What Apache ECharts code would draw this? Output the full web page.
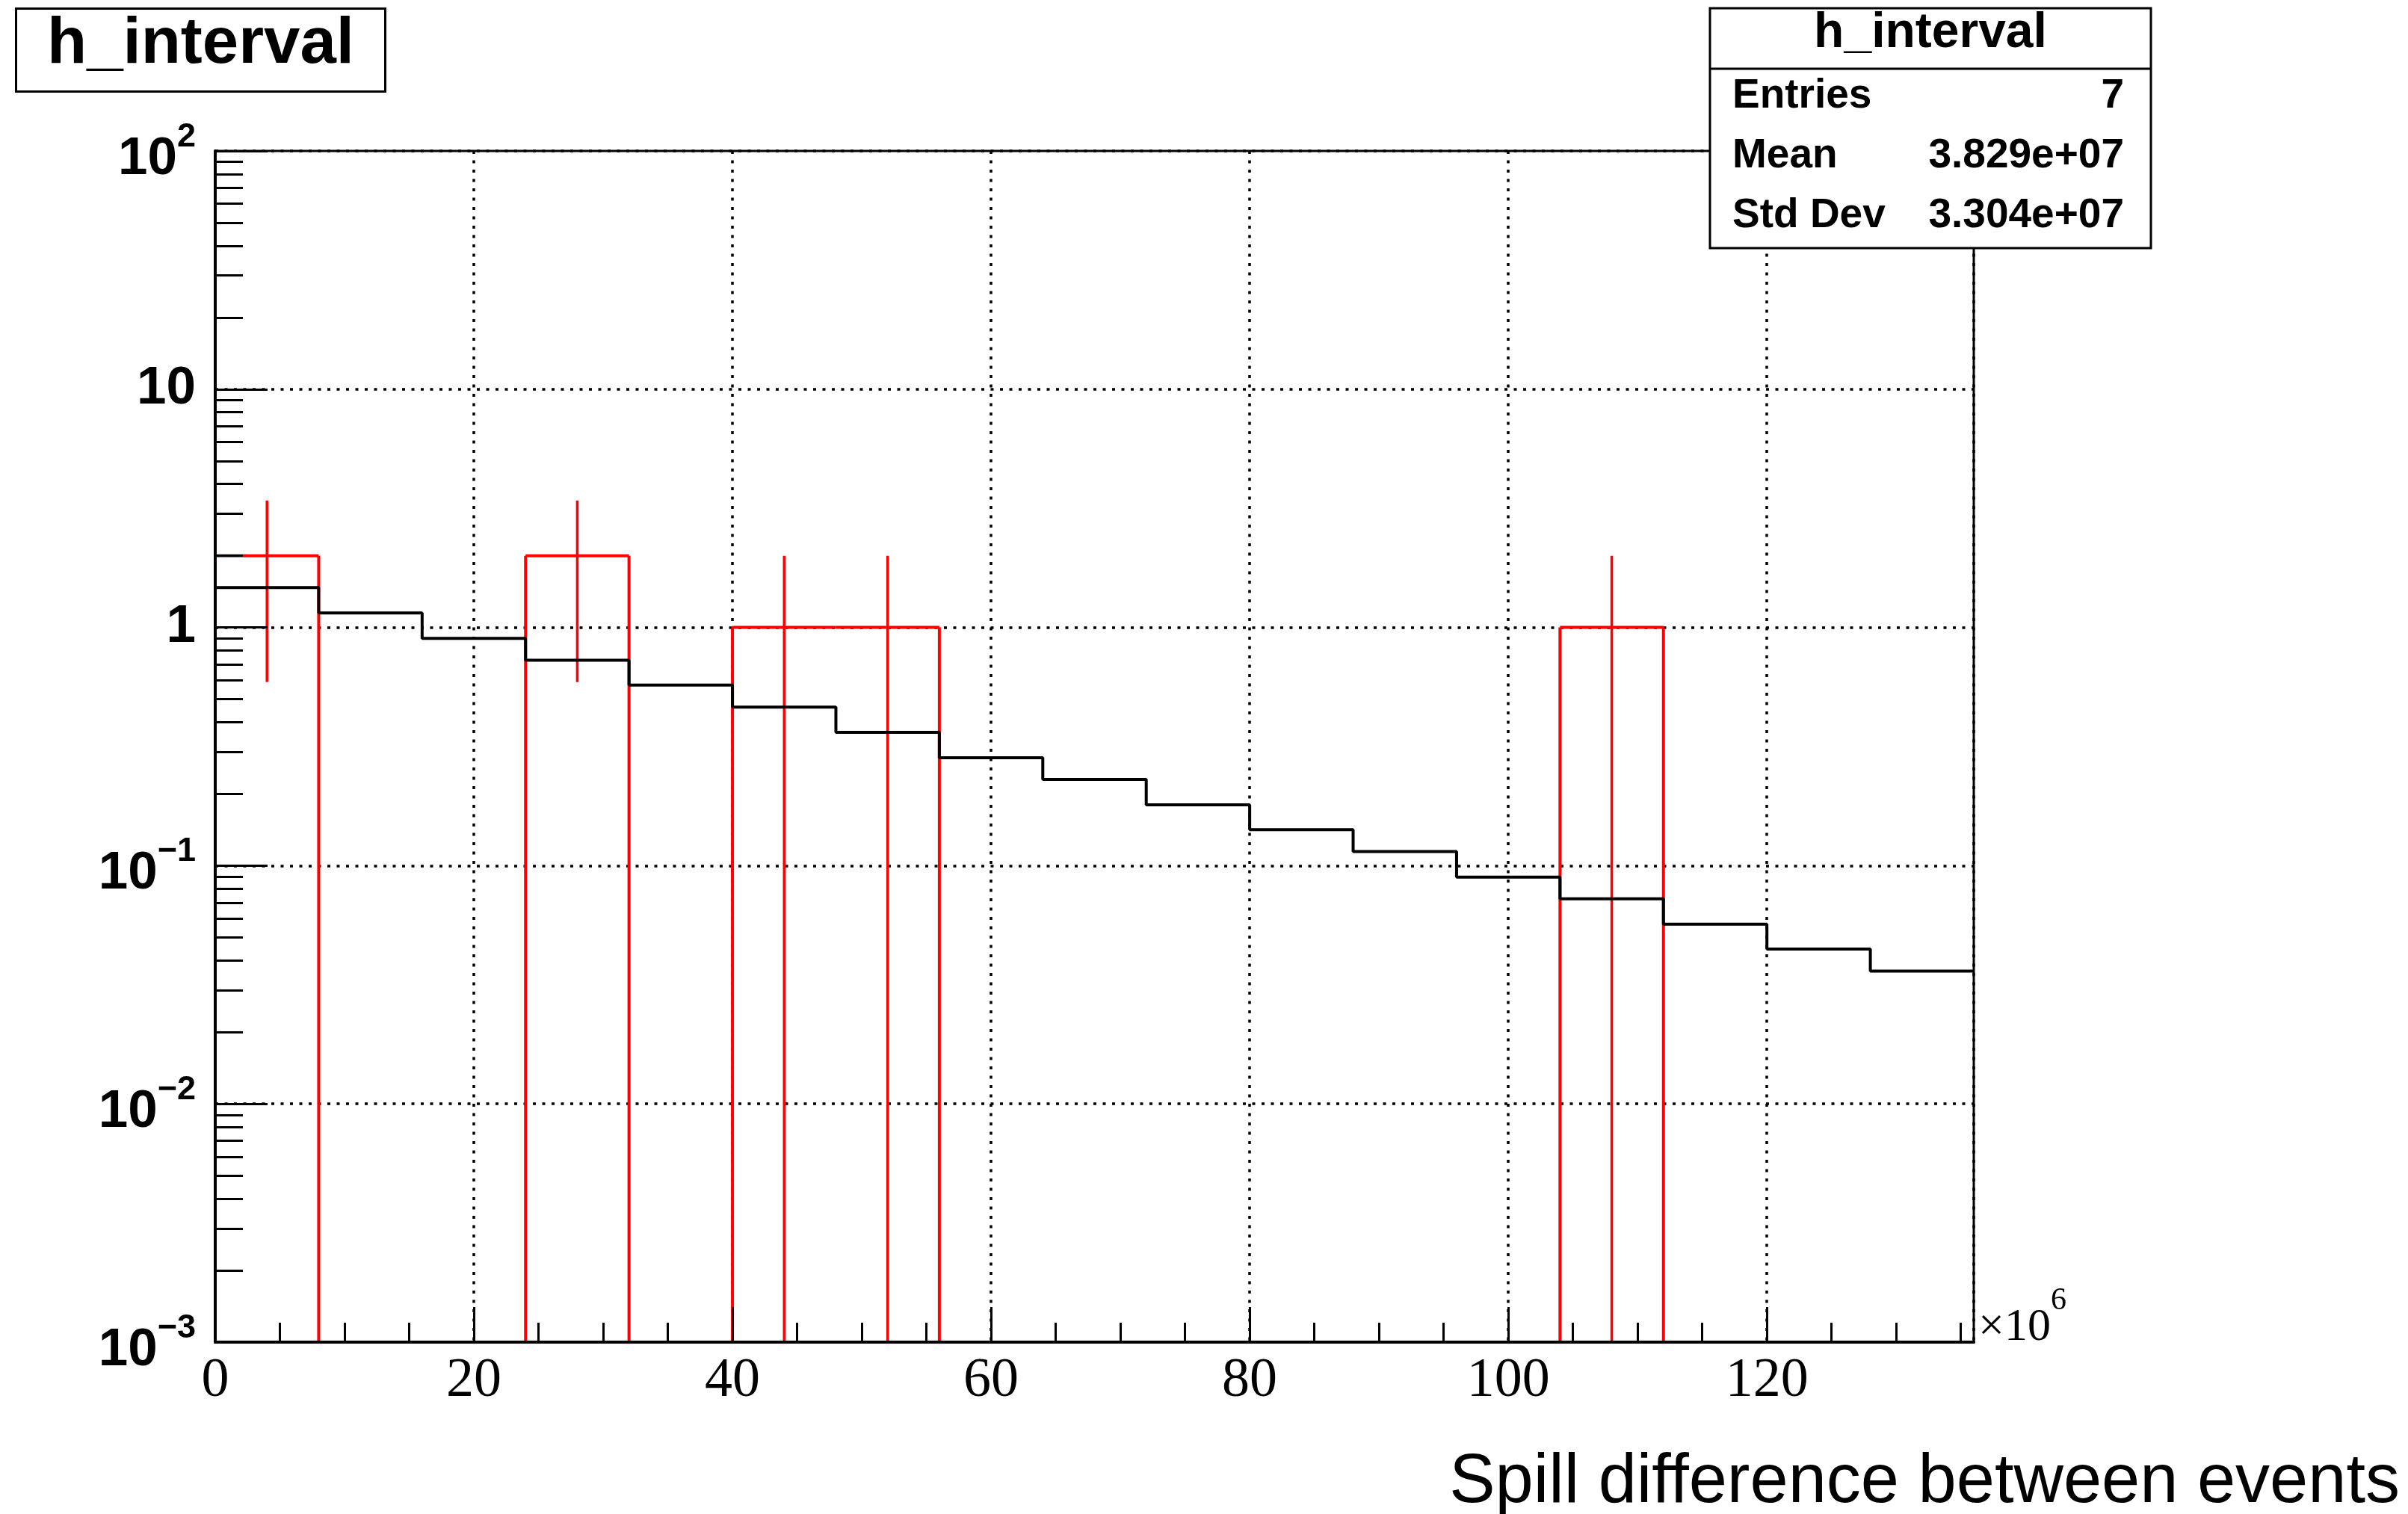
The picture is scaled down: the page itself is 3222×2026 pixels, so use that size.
<!DOCTYPE html>
<html>
<head>
<meta charset="utf-8">
<script src="https://cdn.jsdelivr.net/npm/echarts@6/dist/echarts.min.js"></script>
<style>
html,body{margin:0;padding:0;background:#fff;}
#chart{width:3222px;height:2026px;}
</style>
</head>
<body>
<div id="chart"></div>
<script>
// ---------------- data ----------------
const binLow = [0, 8, 16, 24, 32, 40, 48, 56, 64, 72, 80, 88, 96, 104, 112, 120, 128];
const binWidth = 8;
const xMax = 136;
// red histogram (h_interval): counts per bin and their error bars
const dataCounts = [2, 0, 0, 2, 0, 1, 1, 0, 0, 0, 0, 0, 0, 1, 0, 0, 0];
const dataErrors = [1.41, 0, 0, 1.41, 0, 1.0, 1.0, 0, 0, 0, 0, 0, 0, 1.0, 0, 0, 0];
// black histogram (expected shape)
const modelValues = [1.47, 1.15, 0.90, 0.728, 0.573, 0.463, 0.363, 0.284, 0.230, 0.180, 0.1416, 0.1146, 0.0895, 0.0726, 0.0568, 0.0447, 0.0361];

// ticks and tick labels
const xMajorTicks = [0, 20, 40, 60, 80, 100, 120];
const xMinorTicks = [5, 10, 15, 25, 30, 35, 45, 50, 55, 65, 70, 75, 85, 90, 95, 105, 110, 115, 125, 130, 135];
const yMajorTicks = [0.001, 0.01, 0.1, 1, 10, 100];
const yTickLabels = [['10', '\u22123'], ['10', '\u22122'], ['10', '\u22121'], ['1', ''], ['10', ''], ['10', '2']];
const yMinorTicks = [0.002, 0.003, 0.004, 0.005, 0.006, 0.007, 0.008, 0.009,
                     0.02, 0.03, 0.04, 0.05, 0.06, 0.07, 0.08, 0.09,
                     0.2, 0.3, 0.4, 0.5, 0.6, 0.7, 0.8, 0.9,
                     2, 3, 4, 5, 6, 7, 8, 9,
                     20, 30, 40, 50, 60, 70, 80, 90];

const histTitle = 'h_interval';
const xTitle = 'Spill difference between events';
const xScaleMain = '\u00d710';
const xScaleExp = '6';
const statsRows = [['Entries', '7'], ['Mean', '3.829e+07'], ['Std Dev', '3.304e+07']];

// ---------------- build series data ----------------
const redHistData = binLow.map((lo, i) => [lo, lo + binWidth, dataCounts[i], i > 0 ? dataCounts[i - 1] : 0, i === binLow.length - 1 ? 1 : 0]);
const redErrData = binLow.map((lo, i) => [lo + binWidth / 2, dataCounts[i], dataErrors[i]]);
const modelLine = binLow.map((lo, i) => [lo, modelValues[i]]);
modelLine.push([binLow[binLow.length - 1] + binWidth, modelValues[modelValues.length - 1]]);

const SANS = 'Liberation Sans';
const SERIF = 'Liberation Serif';
const RED = '#ff0000';

function renderHist(params, api) {
  const lo = api.value(0), hi = api.value(1), v = api.value(2), pv = api.value(3), last = api.value(4);
  const cs = params.coordSys;
  const yb = cs.y + cs.height;
  const yOf = val => (val > 0 ? api.coord([lo, val])[1] : yb);
  const xl = api.coord([lo, 1])[0];
  const xh = api.coord([hi, 1])[0];
  const yv = yOf(v), yp = yOf(pv);
  const st = { stroke: RED, lineWidth: 4, fill: null };
  const children = [];
  if (Math.abs(yv - yp) > 0.5) children.push({ type: 'line', shape: { x1: xl, y1: yp, x2: xl, y2: yv }, style: st });
  if (v > 0) children.push({ type: 'line', shape: { x1: xl, y1: yv, x2: xh, y2: yv }, style: st });
  if (last && v > 0) children.push({ type: 'line', shape: { x1: xh, y1: yv, x2: xh, y2: yb }, style: st });
  return { type: 'group', children: children };
}

function renderErr(params, api) {
  const xc = api.value(0), v = api.value(1), e = api.value(2);
  if (!(v > 0)) return null;
  const cs = params.coordSys;
  const yb = cs.y + cs.height;
  const p = api.coord([xc, v + e]);
  const yLow = v - e > 0 ? api.coord([xc, v - e])[1] : yb;
  return { type: 'line', shape: { x1: p[0], y1: p[1], x2: p[0], y2: yLow }, style: { stroke: RED, lineWidth: 3.5 } };
}

const gridDot = { color: '#000', width: 3.5, type: [4, 8.5] };
const TOP = 100;

const option = {
  backgroundColor: '#ffffff',
  animation: false,
  title: {
    text: histTitle,
    left: 21, top: 11,
    borderColor: '#000', borderWidth: 3,
    backgroundColor: '#fff',
    padding: [4, 42, 18, 42],
    textStyle: { fontFamily: SANS, fontWeight: 'bold', fontSize: 87, lineHeight: 90, color: '#000' }
  },
  grid: {
    left: 288, top: 202, right: 3222 - 2641, bottom: 2026 - 1796,
    show: true, borderColor: '#000', borderWidth: 3, backgroundColor: 'transparent',
    containLabel: false, outerBoundsMode: 'none'
  },
  xAxis: [
    {
      type: 'value', min: 0, max: xMax, position: 'bottom', z: 10,
      axisLine: { show: true, onZero: false, lineStyle: { color: '#000', width: 4 } },
      axisTick: { show: true, inside: true, length: 47, customValues: xMajorTicks, lineStyle: { color: '#000', width: 3 } },
      axisLabel: { show: true, customValues: xMajorTicks, margin: 16, color: '#000', fontFamily: SERIF, fontSize: 74, lineHeight: 74 },
      splitLine: { show: false },
      name: '{m|' + xScaleMain + '}{s|' + xScaleExp + '}',
      nameLocation: 'end', nameGap: 6,
      nameTextStyle: {
        align: 'left',
        rich: {
          m: { fontFamily: SERIF, fontSize: 62, lineHeight: 70, padding: [0, 0, 38, 0], color: '#000' },
          s: { fontFamily: SERIF, fontSize: 42, lineHeight: 70, padding: [0, 0, 110, 0], color: '#000' }
        }
      }
    },
    {
      type: 'value', min: 0, max: xMax, position: 'bottom', z: 10,
      axisLine: { show: false, onZero: false },
      axisTick: { show: true, inside: true, length: 26, customValues: xMinorTicks, lineStyle: { color: '#000', width: 3 } },
      axisLabel: { show: false },
      splitLine: { show: false },
      name: xTitle,
      nameLocation: 'end', nameGap: 570,
      nameTextStyle: { fontFamily: SANS, fontSize: 92, lineHeight: 92, color: '#000', align: 'right', verticalAlign: 'top', padding: [143, 0, 0, 0] }
    },
    {
      type: 'value', min: 0, max: xMax, interval: 20, position: 'bottom', z: 1,
      axisLine: { show: false, onZero: false },
      axisTick: { show: false },
      axisLabel: { show: false },
      splitLine: { show: true, lineStyle: gridDot }
    }
  ],
  yAxis: [
    {
      type: 'log', logBase: 10, min: 0.001, max: 100, position: 'left', z: 10,
      axisLine: { show: true, onZero: false, lineStyle: { color: '#000', width: 4 } },
      axisTick: { show: true, inside: true, length: 70, customValues: yMajorTicks, lineStyle: { color: '#000', width: 3 } },
      axisLabel: {
        show: true, customValues: yMajorTicks, margin: 26, color: '#000',
        formatter: function (val) {
          let idx = 0, best = Infinity;
          yMajorTicks.forEach((t, i) => { const d = Math.abs(Math.log10(t) - Math.log10(val)); if (d < best) { best = d; idx = i; } });
          const lab = yTickLabels[idx];
          return lab[1] ? '{m|' + lab[0] + '}{s|' + lab[1] + '}' : '{p|' + lab[0] + '}';
        },
        rich: {
          m: { fontFamily: SANS, fontWeight: 'bold', fontSize: 71, lineHeight: 80, padding: [22, 0, 0, 0], color: '#000' },
          s: { fontFamily: SANS, fontWeight: 'bold', fontSize: 45, lineHeight: 80, padding: [0, 0, 37, 0], color: '#000' },
          p: { fontFamily: SANS, fontWeight: 'bold', fontSize: 71, lineHeight: 80, color: '#000' }
        }
      },
      splitLine: { show: false }
    },
    {
      type: 'log', logBase: 10, min: 0.001, max: 100, position: 'left', z: 10,
      axisLine: { show: false, onZero: false },
      axisTick: { show: true, inside: true, length: 37, customValues: yMinorTicks, lineStyle: { color: '#000', width: 3 } },
      axisLabel: { show: false },
      splitLine: { show: false }
    },
    {
      type: 'log', logBase: 10, min: 0.001, max: 100, position: 'left', z: 1,
      axisLine: { show: false, onZero: false },
      axisTick: { show: false },
      axisLabel: { show: false },
      splitLine: { show: true, lineStyle: gridDot }
    }
  ],
  series: [
    {
      name: 'h_interval', type: 'custom', xAxisIndex: 0, yAxisIndex: 0, z: 2,
      renderItem: renderHist, data: redHistData, encode: { x: [0, 1], y: 2 }
    },
    {
      name: 'h_interval errors', type: 'custom', xAxisIndex: 0, yAxisIndex: 0, z: 2,
      renderItem: renderErr, data: redErrData, encode: { x: 0, y: 1 }
    },
    {
      name: 'expected', type: 'line', xAxisIndex: 0, yAxisIndex: 0, z: 3,
      step: 'end', symbol: 'none', data: modelLine,
      lineStyle: { color: '#000', width: 4 }
    }
  ],
  graphic: {
    elements: [
      { type: 'rect', z: TOP, shape: { x: 2288, y: 11, width: 590, height: 321 }, style: { fill: '#fff', stroke: '#000', lineWidth: 3 } },
      { type: 'line', z: TOP + 1, shape: { x1: 2288, y1: 92, x2: 2878, y2: 92 }, style: { stroke: '#000', lineWidth: 3 } },
      { type: 'text', z: TOP + 1, x: 2583, y: 45, style: { text: histTitle, fill: '#000', fontFamily: SANS, fontWeight: 'bold', fontSize: 66, align: 'center', textAlign: 'center', verticalAlign: 'middle', textVerticalAlign: 'middle' } }
    ].concat(statsRows.flatMap((r, i) => [
      { type: 'text', z: TOP + 1, x: 2318, y: 129 + 80 * i, style: { text: r[0], fill: '#000', fontFamily: SANS, fontWeight: 'bold', fontSize: 55, align: 'left', textAlign: 'left', verticalAlign: 'middle', textVerticalAlign: 'middle' } },
      { type: 'text', z: TOP + 1, x: 2842, y: 129 + 80 * i, style: { text: r[1], fill: '#000', fontFamily: SANS, fontWeight: 'bold', fontSize: 55, align: 'right', textAlign: 'right', verticalAlign: 'middle', textVerticalAlign: 'middle' } }
    ]))
  }
};

const chart = echarts.init(document.getElementById('chart'), null, { renderer: 'canvas', width: 3222, height: 2026 });
chart.setOption(option);
</script>
</body>
</html>
